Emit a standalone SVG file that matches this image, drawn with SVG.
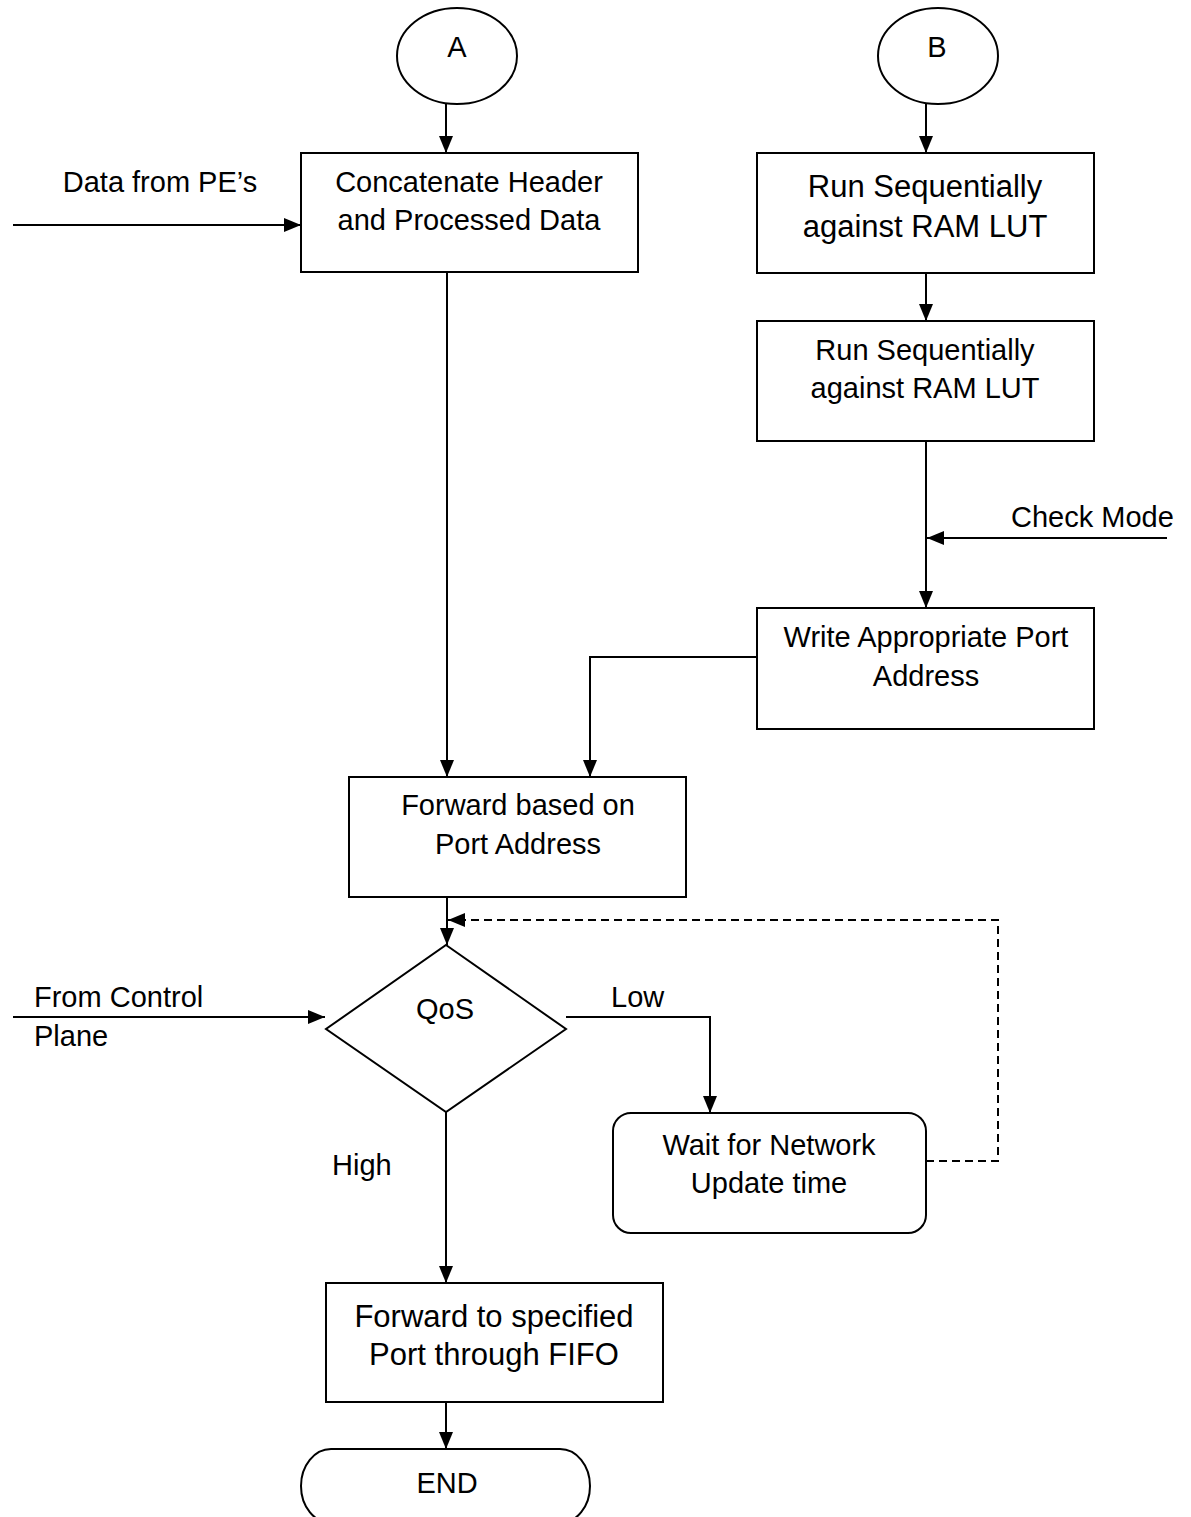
<svg xmlns="http://www.w3.org/2000/svg" width="1191" height="1517" viewBox="0 0 1191 1517">
  <style>
    .shape { fill: #ffffff; stroke: #000000; stroke-width: 2; }
    .wire { fill: none; stroke: #000000; stroke-width: 2; }
    .dash { stroke-dasharray: 8 5; }
    text { font-family: "Liberation Sans", Arial, Helvetica, sans-serif; fill: #000000; }
    .t { font-size: 29px; }
    .tl { font-size: 31px; }
    .c { text-anchor: middle; }
  </style>
  <defs>
    <marker id="arrow" markerUnits="userSpaceOnUse" markerWidth="18" markerHeight="15" refX="17" refY="7" orient="auto">
      <path d="M0,0 L17,7 L0,14 Z" fill="#000000"/>
    </marker>
  </defs>
  <rect width="1191" height="1517" fill="#ffffff"/>

  <!-- connectors -->
  <g id="connectors">
    <path class="wire" d="M446,104 L446,153" marker-end="url(#arrow)"/>
    <path class="wire" d="M926,104 L926,153" marker-end="url(#arrow)"/>
    <path class="wire" d="M13,225 L301,225" marker-end="url(#arrow)"/>
    <path class="wire" d="M447,272 L447,777" marker-end="url(#arrow)"/>
    <path class="wire" d="M926,273 L926,321" marker-end="url(#arrow)"/>
    <path class="wire" d="M926,441 L926,608" marker-end="url(#arrow)"/>
    <path class="wire" d="M1167,538 L927,538" marker-end="url(#arrow)"/>
    <path class="wire" d="M757,657 L590,657 L590,777" marker-end="url(#arrow)"/>
    <path class="wire" d="M447,897 L447,945" marker-end="url(#arrow)"/>
    <path class="wire dash" d="M926,1161 L998,1161 L998,920 L448,920" marker-end="url(#arrow)"/>
    <path class="wire" d="M13,1017 L325,1017" marker-end="url(#arrow)"/>
    <path class="wire" d="M566,1017 L710,1017 L710,1113" marker-end="url(#arrow)"/>
    <path class="wire" d="M446,1112 L446,1283" marker-end="url(#arrow)"/>
    <path class="wire" d="M446,1402 L446,1449" marker-end="url(#arrow)"/>
  </g>

  <!-- edge labels -->
  <g id="labels">
    <text class="t c" x="160" y="192">Data from PE’s</text>
    <text class="t" x="1011" y="527">Check Mode</text>
    <text class="t" x="34" y="1007">From Control</text>
    <text class="t" x="34" y="1046">Plane</text>
    <text class="t" x="611" y="1007">Low</text>
    <text class="t" x="332" y="1175">High</text>
  </g>

  <g id="start-a">
    <ellipse class="shape" cx="457" cy="56" rx="60" ry="48"/>
    <text class="t c" x="457" y="57">A</text>
  </g>

  <g id="start-b">
    <ellipse class="shape" cx="938" cy="56" rx="60" ry="48"/>
    <text class="t c" x="937" y="57">B</text>
  </g>

  <g id="concatenate">
    <rect class="shape" x="301" y="153" width="337" height="119"/>
    <text class="t c" x="469" y="192">Concatenate Header</text>
    <text class="t c" x="469" y="230">and Processed Data</text>
  </g>

  <g id="run-lut-1">
    <rect class="shape" x="757" y="153" width="337" height="120"/>
    <text class="tl c" x="925" y="197">Run Sequentially</text>
    <text class="tl c" x="925" y="237">against RAM LUT</text>
  </g>

  <g id="run-lut-2">
    <rect class="shape" x="757" y="321" width="337" height="120"/>
    <text class="t c" x="925" y="360">Run Sequentially</text>
    <text class="t c" x="925" y="398">against RAM LUT</text>
  </g>

  <g id="write-port">
    <rect class="shape" x="757" y="608" width="337" height="121"/>
    <text class="t c" x="926" y="647">Write Appropriate Port</text>
    <text class="t c" x="926" y="686">Address</text>
  </g>

  <g id="forward-port">
    <rect class="shape" x="349" y="777" width="337" height="120"/>
    <text class="t c" x="518" y="815">Forward based on</text>
    <text class="t c" x="518" y="854">Port Address</text>
  </g>

  <g id="qos">
    <polygon class="shape" points="446,945 566,1029 446,1112 326,1029"/>
    <text class="t c" x="445" y="1019">QoS</text>
  </g>

  <g id="wait-update">
    <rect class="shape" x="613" y="1113" width="313" height="120" rx="18" ry="18"/>
    <text class="t c" x="769" y="1155">Wait for Network</text>
    <text class="t c" x="769" y="1193">Update time</text>
  </g>

  <g id="forward-fifo">
    <rect class="shape" x="326" y="1283" width="337" height="119"/>
    <text class="tl c" x="494" y="1327">Forward to specified</text>
    <text class="tl c" x="494" y="1365">Port through FIFO</text>
  </g>

  <g id="end">
    <rect class="shape" x="301" y="1449" width="289" height="74" rx="30" ry="37"/>
    <text class="t c" x="447" y="1493">END</text>
  </g>
</svg>
